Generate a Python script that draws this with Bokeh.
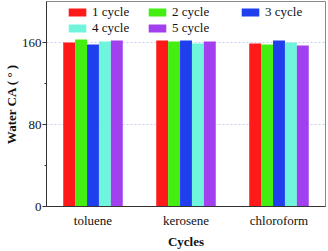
from bokeh.plotting import figure
from bokeh.models import ColumnDataSource, FactorRange, FixedTicker, Legend, LegendItem, Range1d
from bokeh.transform import dodge
from bokeh.embed import file_html
from bokeh.resources import INLINE

solvents = ["toluene", "kerosene", "chloroform"]
cycle_names = ["1 cycle", "2 cycle", "3 cycle", "4 cycle", "5 cycle"]
cycle1 = [160, 162, 159]
cycle2 = [163, 161, 158]
cycle3 = [158, 162, 162]
cycle4 = [161, 159, 160]
cycle5 = [162, 161, 157]
colors = ["#FF1A1A", "#44EE11", "#1F3FEF", "#6FF5DC", "#A240F0"]
y_ticks = [0, 80, 160]
y_minor = [40, 120]

src = ColumnDataSource(dict(solvent=solvents, c1=cycle1, c2=cycle2, c3=cycle3, c4=cycle4, c5=cycle5))

p = figure(x_range=FactorRange(*solvents, range_padding=0), y_range=Range1d(0, 200),
           width=328, height=251, output_backend="svg", toolbar_location=None,
           min_border_top=1, min_border_right=3, min_border_bottom=40, min_border_left=44)

bw = 0.128
offsets = [-2 * bw, -bw, 0, bw, 2 * bw]
renderers = []
for i, key in enumerate(["c1", "c2", "c3", "c4", "c5"]):
    r = p.vbar(x=dodge("solvent", offsets[i], range=p.x_range), top=key, width=bw, source=src,
               fill_color=colors[i], line_color=None)
    renderers.append(r)

leg_pos = [(20, 186), (100, 186), (193, 186), (20, 170), (100, 170)]
for i in range(5):
    lg = Legend(items=[LegendItem(label=cycle_names[i], renderers=[renderers[i]])],
                location=leg_pos[i], orientation="horizontal",
                border_line_color=None, background_fill_alpha=0,
                glyph_width=22, glyph_height=10, label_standoff=4, spacing=0,
                label_height=14, label_text_font="Liberation Serif", label_text_font_size="13px",
                label_text_color="#111111", padding=0, margin=0)
    p.add_layout(lg, "center")

p.outline_line_color = "#888888"
p.outline_line_width = 1
p.xgrid.visible = False
p.ygrid.ticker = FixedTicker(ticks=[80, 160])
p.ygrid.grid_line_color = "#c8d0f0"
p.ygrid.grid_line_dash = "2 2"

p.yaxis.ticker = FixedTicker(ticks=y_ticks, minor_ticks=y_minor)
p.yaxis.major_tick_out = 4
p.yaxis.major_tick_in = 0
p.yaxis.minor_tick_out = 2
p.yaxis.minor_tick_in = 0
p.yaxis.major_label_standoff = 1
p.yaxis.axis_label = "Water CA ( ° )"
p.yaxis.axis_label_standoff = 0

p.xaxis.major_tick_out = 0
p.xaxis.major_tick_in = 0
p.xaxis.major_label_standoff = 6
p.xaxis.axis_label = "Cycles"
p.xaxis.axis_label_standoff = 3

for ax in [p.xaxis[0], p.yaxis[0]]:
    ax.axis_line_color = "#333333"
    ax.major_tick_line_color = "#333333"
    ax.minor_tick_line_color = "#333333"
    ax.major_label_text_font = "Liberation Serif"
    ax.major_label_text_font_size = "13px"
    ax.major_label_text_color = "#111111"
    ax.axis_label_text_font = "Liberation Serif"
    ax.axis_label_text_font_size = "13px"
    ax.axis_label_text_font_style = "bold"
    ax.axis_label_text_color = "#111111"

open("out.html", "w").write(file_html(p, INLINE))
